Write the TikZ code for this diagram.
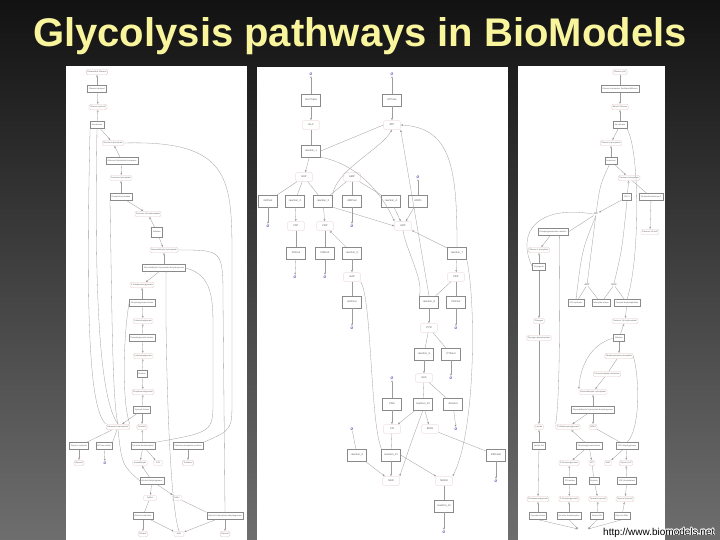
\documentclass[tikz,border=0pt]{standalone}
\usepackage{fontspec}
\setmainfont{Liberation Sans}
\usetikzlibrary{arrows.meta,positioning}
\definecolor{titleyellow}{HTML}{F9F59D}
\definecolor{bgtop}{HTML}{121212}
\definecolor{bgmid}{HTML}{262626}
\definecolor{bgbottom}{HTML}{6E6E6E}
\definecolor{specline}{HTML}{E2C4C4}
\definecolor{rxnline}{HTML}{8A8A8A}
\definecolor{edgegray}{HTML}{9C9C9C}
\definecolor{nullblue}{HTML}{3C3CA6}

\begin{document}
\begin{tikzpicture}[x=1pt,y=-1pt,
spec/.style={
rectangle,
rounded corners=1.5pt,
draw=specline,
fill=white,
line width=0.3pt,
inner xsep=1.2pt,
inner ysep=0pt,
minimum height=5.5pt,
font=\fontsize{2}{2.4}\selectfont,
text=black!65
},
rxn/.style={
rectangle,
draw=rxnline,
fill=white,
line width=0.35pt,
inner xsep=1.5pt,
inner ysep=0pt,
minimum height=7pt,
font=\fontsize{2}{2.4}\selectfont,
text=black!65
},
mspec/.style={spec, minimum width=17pt, minimum height=9pt, font=\fontsize{2.6}{3}\selectfont},
mrxn/.style={rxn, minimum width=19pt, minimum height=12pt, font=\fontsize{2.6}{3}\selectfont},
nullsp/.style={font=\fontsize{3.5}{4}\selectfont, text=nullblue, inner sep=0.5pt},
plain/.style={font=\fontsize{2.4}{3}\selectfont, text=black!70, inner sep=0.5pt},
link/.style={draw=edgegray, line width=0.3pt},
prod/.style={link, -{Latex[length=2.2pt,width=1.8pt]}},
reac/.style={link, -{Triangle[open,length=2.2pt,width=2pt]}},
urltext/.style={font=\fontsize{10}{12}\selectfont, anchor=base west, inner sep=0pt}
]
\useasboundingbox (0,0) rectangle (720,540);
\shade[top color=bgtop, middle color=bgmid, bottom color=bgbottom] (0,0) rectangle (720,540);

\node[font=\fontsize{40}{48}\selectfont\bfseries, text=titleyellow, anchor=base] (title) at (360,47) {Glycolysis pathways in BioModels};

% three model panels
\fill[white] (66,66) rectangle (247,540);
\fill[white] (257,67) rectangle (508,540);
\fill[white] (518,66) rectangle (665,540);

% ---- left panel
\node[spec] (lglcx) at (97,72) {Extracellular Glucose};
\node[rxn] (lglctr) at (97,89) {Glucose transport};
\node[spec] (lglc) at (98,107) {Glucose (cytosol)};
\node[rxn] (lhk) at (97,125) {Hexokinase};
\node[spec] (lg6p) at (113,143) {Glucose-6-phosphate};
\node[rxn] (lpgi) at (122,161) {Glucose-6-phosphate isomerase};
\node[spec] (lf6p) at (121,178) {Fructose-6-phosphate};
\node[rxn] (lpfk) at (121,197) {Phosphofructokinase};
\node[spec] (lfbp) at (148,214) {Fructose-1,6-bisphosphate};
\node[rxn, minimum height=10pt] (lald) at (157,232) {Aldolase};
\node[spec] (lgap) at (164,250) {Glyceraldehyde-3-phosphate};
\node[rxn] (lgapdh) at (164,268) {Glyceraldehyde-3-phosphate dehydrogenase};
\node[spec] (lbpg) at (142,285) {1,3-bisphosphoglycerate};
\node[rxn] (lpgk) at (142,303) {Phosphoglycerate kinase};
\node[spec] (lpga) at (143,321) {3-phosphoglycerate};
\node[rxn] (lpgm) at (142,338) {Phosphoglycerate mutase};
\node[spec] (lpgb) at (143,356) {2-phosphoglycerate};
\node[rxn] (leno) at (142,374) {Enolase};
\node[spec] (lpep) at (143,392) {Phosphoenolpyruvate};
\node[rxn] (lpk) at (142,410) {Pyruvate kinase};
\node[spec] (latp) at (118,427) {Adenosine triphosphate};
\node[spec] (lpyr) at (142,427) {Pyruvate};
\node[rxn] (lglys) at (79,446) {Glycerol synthesis};
\node[rxn] (latpase) at (104,446) {ATPase activity};
\node[rxn] (lpdc) at (143,446) {Pyruvate decarboxylase};
\node[rxn] (ltps) at (188,446) {Trehalose-phosphate synthase};
\node[spec] (lglyo) at (79,463) {Glycerol};
\node[nullsp] (lnull) at (105,463) {Ø};
\node[spec] (lacald) at (140,463) {Acetaldehyde};
\node[spec, minimum width=9pt] (lco2) at (158,463) {CO2};
\node[spec] (ltre) at (188,463) {Trehalose};
\node[rxn] (ladh) at (152,481) {Alcohol dehydrogenase};
\node[spec, minimum width=13pt] (lnadh) at (150,498) {NADH};
\node[spec, minimum width=10pt] (lnad) at (177,498) {NAD+};
\node[rxn] (lethx) at (143,516) {Ethanol production};
\node[rxn] (lg3pdh) at (225,516) {Glycerol-3-phosphate dehydrogenase};
\node[spec] (letoh) at (143,534) {Ethanol};
\node[spec, minimum width=10pt] (lnad2) at (179,534) {NAD};
\node[spec] (lglyc) at (225,534) {Glycerol};

\draw[reac] (lglctr) -- (lglcx);
\draw[prod] (lglctr) -- (lglc);
\draw[reac] (lhk) -- (lglc);
\draw[prod] (lhk) -- (lg6p);
\draw[reac] (lpgi) -- (lg6p);
\draw[prod] (lpgi) -- (lf6p);
\draw[reac] (lpfk) -- (lf6p);
\draw[prod] (lpfk) -- (lfbp);
\draw[reac] (lald) -- (lfbp);
\draw[prod] (lald) -- (lgap);
\draw[reac] (lgapdh) -- (lgap);
\draw[prod] (lgapdh) -- (lbpg);
\draw[reac] (lpgk) -- (lbpg);
\draw[prod] (lpgk) -- (lpga);
\draw[reac] (lpgm) -- (lpga);
\draw[prod] (lpgm) -- (lpgb);
\draw[reac] (leno) -- (lpgb);
\draw[prod] (leno) -- (lpep);
\draw[reac] (lpk) -- (lpep);
\draw[prod] (lpk) -- (lpyr);
\draw[prod] (lpk) -- (latp);
\draw[link] (lhk.200) .. controls (86,300) and (88,410) .. (latp.north west);
\draw[link] (lhk.south) .. controls (94,300) and (100,400) .. (latp.north);
\draw[link] (lpfk.south west) .. controls (112,300) and (112,400) .. (latp.north);
\draw[link] (lpgk.west) .. controls (124,330) and (121,400) .. (latp.north east);
\draw[link] (lg6p.east) .. controls (232,140) and (232,180) .. (232,260) -- (232,400) .. controls (232,430) .. (ltps.north east);
\draw[link] (lgap.east) .. controls (223,250) .. (223,300) -- (lg3pdh.north);
\draw[link] (lgapdh.east) .. controls (213,275) and (213,300) .. (213,330) -- (213,400) .. controls (213,432) .. (lpdc.north east);
\draw[link] (lgapdh.-60) .. controls (165,320) and (168,500) .. (lnad2.north);
\draw[link] (latp) -- (lglys);
\draw[link] (latp) -- (latpase.north east);
\draw[reac] (lpdc) -- (lpyr);
\draw[prod] (lglys) -- (lglyo);
\draw[prod] (latpase) -- (lnull);
\draw[prod] (lpdc) -- (lacald);
\draw[prod] (lpdc) -- (lco2);
\draw[prod] (ltps) -- (ltre);
\draw[link] (latp.south) .. controls (122,465) .. (ladh.west);
\draw[reac] (ladh) -- (lacald);
\draw[prod] (ladh) -- (lnadh);
\draw[prod] (ladh) -- (lnad);
\draw[link] (lnadh) -- (lethx);
\draw[link] (lnad) -- (lg3pdh.north west);
\draw[prod] (lethx) -- (letoh);
\draw[prod] (lethx) -- (lnad2);
\draw[prod] (lg3pdh) -- (lnad2);
\draw[prod] (lg3pdh) -- (lglyc);

% ---- middle panel
\node[nullsp] (mnull1) at (311,74) {Ø};
\node[nullsp] (mnull2) at (392,74) {Ø};
\node[mrxn] (mglctr) at (311,100) {GLCTrans};
\node[mrxn] (matpase) at (392,100) {ATPase};
\node[mspec] (mglc) at (311,125) {GLC};
\node[mspec] (matp) at (392,125) {ATP};
\node[mrxn] (mhk) at (311,151) {reaction\_1};
\node[mspec] (mg6p) at (304,177) {G6P};
\node[mspec] (mamp) at (352,177) {AMP};
\node[nullsp] (mnull3) at (418,177) {Ø};
\node[mrxn] (mg6pout) at (268,201) {G6Pout};
\node[mrxn] (mpgi) at (295,201) {reaction\_2};
\node[mrxn] (mpfk) at (323,201) {reaction\_3};
\node[mrxn] (mampout) at (352,201) {AMPout};
\node[mrxn] (mak) at (391,201) {reaction\_4};
\node[mrxn] (madpin) at (418,201) {ADPin};
\node[nullsp] (mnull4) at (268,226) {Ø};
\node[mspec] (mf6p) at (296,226) {F6P};
\node[mspec] (mfbp) at (325,226) {FBP};
\node[nullsp] (mnull5) at (352,226) {Ø};
\node[mspec] (madp) at (403,226) {ADP};
\node[mrxn] (mf6pout) at (296,253) {F6Pout};
\node[mrxn] (mfbpout) at (325,253) {FBPout};
\node[mrxn] (mald) at (352,253) {reaction\_5};
\node[mrxn] (mpgk) at (457,253) {reaction\_7};
\node[nullsp] (mnull6) at (295,277) {Ø};
\node[nullsp] (mnull7) at (325,277) {Ø};
\node[mspec] (mgap) at (352,277) {GAP};
\node[mspec] (mpep) at (456,277) {PEP};
\node[mrxn] (mgapout) at (352,302) {GAPout};
\node[mrxn] (mpk) at (429,302) {reaction\_8};
\node[mrxn] (mpepout) at (456,302) {PEPout};
\node[nullsp] (mnull8) at (352,328) {Ø};
\node[mspec] (mpyr) at (429,328) {PYR};
\node[nullsp] (mnull9) at (456,328) {Ø};
\node[mrxn] (mpdc) at (424,354) {reaction\_9};
\node[mrxn] (mpyrout) at (451,354) {PYRout};
\node[nullsp] (mnull10) at (392,378) {Ø};
\node[mspec] (maca) at (424,378) {ACA};
\node[nullsp] (mnull11) at (451,378) {Ø};
\node[mrxn] (mcnin) at (392,404) {CNin};
\node[mrxn] (madh) at (423,404) {reaction\_10};
\node[mrxn] (macaout) at (453,404) {ACAout};
\node[nullsp] (mnull12) at (352,429) {Ø};
\node[mspec] (mcn) at (392,429) {CN};
\node[mspec] (metoh) at (430,429) {EtOH};
\node[nullsp] (mnull13) at (456,429) {Ø};
\node[mrxn] (mlpglyc) at (357,455) {reaction\_6};
\node[mrxn] (mgpd) at (391,455) {reaction\_11};
\node[mrxn] (metohout) at (496,455) {EtOHout};
\node[mspec] (mnad) at (391,481) {NAD};
\node[mspec] (mnadh) at (444,481) {NADH};
\node[nullsp] (mnull14) at (496,481) {Ø};
\node[mrxn] (mstor) at (444,506) {reaction\_12};
\node[nullsp] (mnull15) at (444,532) {Ø};

\draw[reac] (mglctr) -- (mnull1);
\draw[prod] (mglctr) -- (mglc);
\draw[reac] (matpase) -- (mnull2);
\draw[prod] (matpase) -- (matp);
\draw[link] (mhk) -- (mglc);
\draw[link] (mhk.east) -- (matp.west);
\draw[prod] (mhk) -- (mg6p);
\draw[prod] (mhk.south east) .. controls (362,165) and (385,200) .. (madp.north west);
\draw[reac] (mpfk.north east) .. controls (336,170) and (380,150) .. (matp.south);
\draw[link] (mg6p) -- (mg6pout);
\draw[link] (mg6p) -- (mpgi);
\draw[link] (mg6p) -- (mpfk);
\draw[prod] (mg6pout) -- (mnull4);
\draw[prod] (mpgi) -- (mf6p);
\draw[prod] (mpfk) -- (mfbp);
\draw[prod] (mpfk.south east) -- (madp.west);
\draw[link] (mamp) -- (mpfk);
\draw[link] (mamp) -- (mampout);
\draw[link] (mamp) -- (mak);
\draw[prod] (mampout) -- (mnull5);
\draw[prod] (mak) -- (madp);
\draw[reac] (madpin) -- (mnull3);
\draw[prod] (madpin) -- (madp);
\draw[link] (mf6p) -- (mf6pout);
\draw[prod] (mf6pout) -- (mnull6);
\draw[link] (mfbp) -- (mfbpout);
\draw[prod] (mfbpout) -- (mnull7);
\draw[reac] (mald) -- (mfbp);
\draw[prod] (mald) -- (mgap);
\draw[reac] (mpgk) -- (madp);
\draw[prod] (mpgk.north) .. controls (457,170) and (452,128) .. (matp.east);
\draw[prod] (mpgk) -- (mpep);
\draw[prod] (mpgk.south east) .. controls (476,300) and (476,430) .. (mnadh.north east);
\draw[link] (mgap) -- (mgapout);
\draw[prod] (mgapout) -- (mnull8);
\draw[link] (mgap.south east) .. controls (372,300) and (370,420) .. (mgpd.north west);
\draw[link] (mpep) -- (mpk);
\draw[link] (mpep) -- (mpepout);
\draw[prod] (mpepout) -- (mnull9);
\draw[prod] (mpk) -- (mpyr);
\draw[link] (madp.south) .. controls (406,250) and (424,280) .. (mpk.north west);
\draw[prod] (mpk.north) -- (matp.south east);
\draw[link] (mpyr) -- (mpdc);
\draw[link] (mpyr) -- (mpyrout);
\draw[prod] (mpyrout) -- (mnull11);
\draw[prod] (mpdc) -- (maca);
\draw[reac] (mcnin) -- (mnull10);
\draw[prod] (mcnin) -- (mcn);
\draw[link] (maca) -- (madh);
\draw[link] (maca) -- (macaout);
\draw[prod] (macaout) -- (mnull13);
\draw[prod] (madh) -- (metoh);
\draw[prod] (madh) -- (mcn);
\draw[prod] (madh.south) .. controls (412,440) .. (mnad.north east);
\draw[link] (mcn) -- (mgpd);
\draw[link] (metoh) -- (metohout);
\draw[prod] (metohout) -- (mnull14);
\draw[link] (mnull12) -- (mlpglyc);
\draw[prod] (mlpglyc) -- (mnad);
\draw[prod] (mgpd) -- (mnad);
\draw[prod] (mgpd.east) -- (mnadh);
\draw[link] (mnadh) -- (mstor);
\draw[prod] (mstor) -- (mnull15);

% ---- right panel
\node[spec] (rglcx) at (620,72) {Glucose (ext)};
\node[rxn] (rglct) at (620,89) {Glucose transporter, facilitated diffusion};
\node[spec] (rglc) at (620,107) {Beta-D-Glucose};
\node[rxn] (rhk) at (620,125) {Hexokinase};
\node[spec] (rg6p) at (611,143) {Glucose 6-phosphate};
\node[rxn] (rpgi) at (611,161) {Isomerase};
\node[spec] (rf6p) at (629,178) {Fructose 6-phosphate};
\node[rxn] (rpfk) at (627,197) {PFK-1};
\node[rxn] (rpfk2) at (651,197) {Phosphofructokinase 2};
\node[spec] (rf26bp) at (650,232) {Fructose 2,6-bisP};
\node[plain] (ratp) at (596,214) {ATP};
\node[rxn] (rpgm) at (553,232) {Phosphoglucomutase reaction};
\node[spec] (rg1p) at (539,250) {Glucose 1-phosphate};
\node[rxn] (rugp) at (539,267) {Glycogenin};
\node[plain] (radp) at (587,285) {ADP};
\node[plain] (rnad) at (614,285) {NAD};
\node[rxn] (ratps) at (576,303) {ATP synthesis};
\node[rxn] (rak) at (601,303) {Adenylate kinase};
\node[rxn] (rfbpa) at (627,303) {Fructose-bisphosphatase};
\node[spec] (rglycogen) at (539,321) {Glycogen};
\node[spec] (rgp) at (539,338) {Glycogen phosphorylase};
\node[spec] (rfbp) at (625,321) {Fructose 1,6-bisphosphate};
\node[rxn] (rald) at (619,338) {Aldolase};
\node[spec] (rdhap) at (619,356) {Dihydroxyacetone phosphate};
\node[spec] (rtpi) at (607,374) {Triose phosphate isomerase};
\node[spec] (rgap) at (593,392) {Glyceraldehyde 3-phosphate};
\node[rxn] (rgapdh) at (593,410) {Glyceraldehyde-3-phosphate dehydrogenase};
\node[spec] (rlac) at (539,427) {Lactate};
\node[spec] (rbpg) at (568,427) {1,3-Bisphosphoglycerate};
\node[spec] (rnadh) at (593,427) {NADH};
\node[rxn] (rldh) at (539,446) {Lactate DH};
\node[rxn] (rpgk) at (589,446) {Phosphoglycerate kinase};
\node[rxn] (rg3pdh) at (627,446) {G3P dehydrogenase};
\node[spec] (r3pg) at (569,463) {3-Phosphoglycerate};
\node[spec] (ratp2) at (592,463) {ATP};
\node[spec] (rnad2) at (608,463) {NAD};
\node[spec] (rg3p) at (626,463) {Glycerol 3-P};
\node[rxn] (rpgm2) at (570,481) {PG mutase};
\node[rxn] (reno) at (594,481) {Enolase};
\node[rxn] (rgpp) at (627,481) {G3P phosphatase};
\node[spec] (rpep) at (538,499) {Phosphoenolpyruvate};
\node[spec] (r2pg) at (569,499) {2-Phosphoglycerate};
\node[spec] (rpyr) at (598,499) {Pyruvate (cytosol)};
\node[spec] (rglyc) at (625,499) {Glycerol (cytosol)};
\node[rxn] (rpk) at (538,516) {Pyruvate kinase};
\node[rxn] (rpdc) at (569,516) {Pyruvate decarboxylase};
\node[rxn] (radh) at (597,516) {Alcohol DH};
\node[rxn] (rglyt) at (622,516) {Glycerol efflux};
\coordinate (rsinka) at (578,529);
\coordinate (rsinkb) at (588,529);

\draw[link] (rglcx) -- (rglct);
\draw[prod] (rglct) -- (rglc);
\draw[reac] (rhk) -- (rglc);
\draw[prod] (rhk) -- (rg6p);
\draw[reac] (rpgi) -- (rg6p);
\draw[prod] (rpgi) -- (rf6p);
\draw[reac] (rpfk) -- (rf6p);
\draw[link] (rpfk2) -- (rf6p);
\draw[prod] (rpfk2) -- (rf26bp);
\draw[prod] (rpfk) -- (ratp);
\draw[link] (rpgi) .. controls (600,185) .. (ratp);
\draw[link] (rhk.south east) .. controls (640,150) and (640,260) .. (rfbpa.north);
\draw[link] (rpgm.east) -- (ratp);
\draw[prod] (rpgm) -- (rg1p);
\draw[reac] (rugp) -- (rg1p);
\draw[link] (ratp.west) .. controls (540,205) and (515,230) .. (rugp.west);
\draw[prod] (rugp) -- (rglycogen);
\draw[link] (rglycogen) -- (rgp);
\draw[prod] (rgp) -- (rlac);
\draw[reac] (rldh) -- (rlac);
\draw[link] (rpgm.-30) .. controls (560,300) and (560,400) .. (rbpg.north west);
\draw[link] (ratp) -- (radp);
\draw[link] (ratp.south) .. controls (582,250) .. (ratps.north);
\draw[link] (radp) -- (ratps);
\draw[link] (radp) -- (rak);
\draw[link] (rpfk.south) .. controls (622,250) .. (rnad.north);
\draw[link] (rnad) -- (rak);
\draw[link] (rnad) -- (rfbpa);
\draw[prod] (rfbpa) -- (rfbp);
\draw[reac] (rald) -- (rfbp);
\draw[prod] (rald) -- (rdhap);
\draw[prod] (rald.west) .. controls (588,345) and (580,370) .. (rgap.north west);
\draw[link] (rdhap) -- (rtpi);
\draw[prod] (rtpi) -- (rgap);
\draw[link] (rdhap.east) .. controls (640,380) and (640,430) .. (rg3pdh.north);
\draw[reac] (rgapdh) -- (rgap);
\draw[prod] (rgapdh) -- (rbpg);
\draw[prod] (rgapdh) -- (rnadh);
\draw[reac] (rpgk) -- (rbpg);
\draw[prod] (rpgk) -- (r3pg);
\draw[prod] (rpgk) -- (ratp2);
\draw[link] (rnadh) -- (rg3pdh);
\draw[prod] (rg3pdh) -- (rnad2);
\draw[prod] (rg3pdh) -- (rg3p);
\draw[prod] (rldh) -- (rpep);
\draw[reac] (rpgm2) -- (r3pg);
\draw[prod] (rpgm2) -- (r2pg);
\draw[link] (reno) -- (ratp2);
\draw[prod] (reno) -- (rpyr);
\draw[reac] (rgpp) -- (rg3p);
\draw[prod] (rgpp) -- (rglyc);
\draw[reac] (rpk) -- (rpep);
\draw[reac] (rpdc) -- (r2pg);
\draw[reac] (radh) -- (rpyr);
\draw[reac] (rglyt) -- (rglyc);
\draw[prod] (rpk.south) -- (rsinka);
\draw[prod] (rpdc.south) -- (rsinka);
\draw[prod] (radh.south) -- (rsinkb);
\draw[prod] (rglyt.south) -- (rsinkb);

% source link, with a light halo
\foreach \hx/\hy [count=\i] in {602.3/535, 603.7/535, 603/534.3, 603/535.7, 602.5/534.5, 603.5/535.5, 602.5/535.5, 603.5/534.5}
  \node[urltext, text=white] (halo\i) at (\hx,\hy) {http://www.biomodels.net};
\node[urltext, text=black] (url) at (603,535) {http://www.biomodels.net};

\end{tikzpicture}
\end{document}
